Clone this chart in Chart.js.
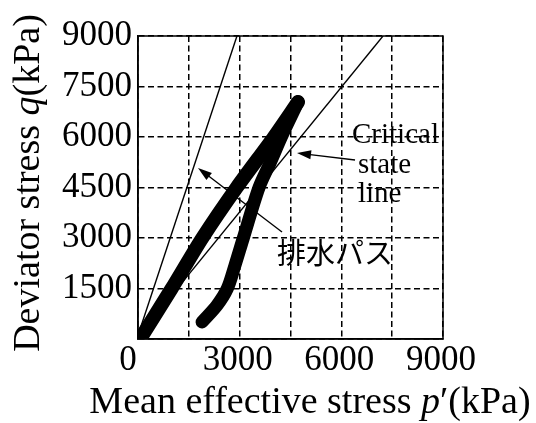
<!DOCTYPE html>
<html>
<head>
<meta charset="utf-8">
<script src="https://cdn.jsdelivr.net/npm/chart.js@4/dist/chart.umd.min.js"></script>
<style>
  html, body { margin: 0; padding: 0; background: #fff; }
  canvas { display: block; }
</style>
</head>
<body>
<canvas id="chart" width="536" height="423"></canvas>
<script>
// Drained stress path (loading to peak, then back down), kPa
const loadP   = [100, 994, 1898, 2912, 4010, 4722];
const loadQ   = [60, 1500, 3000, 4500, 6000, 7040];
const unloadP = [4722, 4230, 3916, 3571, 3108, 2850, 2636, 2330, 1890];
const unloadQ = [7040, 6000, 5270, 4500, 3000, 2150, 1500, 1000, 505];

// Reference lines: steep total-stress line and the critical state line
const steepP = [50, 2920];
const steepQ = [260, 9000];
const cslP   = [50, 7230];
const cslQ   = [130, 9000];

// Axis ticks
const pTickLabels = ['0', '', '3000', '', '6000', '', '9000'];
const qTickLabels = ['', '1500', '3000', '4500', '6000', '7500', '9000'];

// Axis titles (text, italic?)
const xTitleParts = [['Mean effective stress ', false], ['p', true], ['\u2032(kPa)', false]];
const yTitleParts = [['Deviator stress ', false], ['q', true], ['(kPa)', false]];

// Callout texts
const cslLabelLines = ['Critical', 'state', 'line'];
const pathLabel = '排水パス';

const SERIF = "'Liberation Serif', 'Times New Roman', serif";
const CJK = "'Noto Sans CJK JP', 'Noto Sans CJK SC', sans-serif";

const toPts = (xs, ys) => xs.map((x, i) => ({ x: x, y: ys[i] }));

function drawParts(ctx, parts, size) {
  let total = 0;
  const widths = parts.map(([t, it]) => {
    ctx.font = (it ? 'italic ' : '') + size + 'px ' + SERIF;
    const w = ctx.measureText(t).width;
    total += w;
    return w;
  });
  let x = -total / 2;
  parts.forEach(([t, it], i) => {
    ctx.font = (it ? 'italic ' : '') + size + 'px ' + SERIF;
    ctx.fillText(t, x, 0);
    x += widths[i];
  });
}

function arrow(ctx, x1, y1, x2, y2) {
  const ang = Math.atan2(y2 - y1, x2 - x1);
  const len = 14, half = 4.5;
  ctx.beginPath();
  ctx.moveTo(x1, y1);
  ctx.lineTo(x2 - Math.cos(ang) * len * 0.8, y2 - Math.sin(ang) * len * 0.8);
  ctx.lineWidth = 1.4;
  ctx.strokeStyle = '#000';
  ctx.stroke();
  ctx.beginPath();
  ctx.moveTo(x2, y2);
  ctx.lineTo(x2 - Math.cos(ang) * len - Math.sin(ang) * half, y2 - Math.sin(ang) * len + Math.cos(ang) * half);
  ctx.lineTo(x2 - Math.cos(ang) * len + Math.sin(ang) * half, y2 - Math.sin(ang) * len - Math.cos(ang) * half);
  ctx.closePath();
  ctx.fillStyle = '#000';
  ctx.fill();
}

const decor = {
  id: 'decor',
  beforeDraw(chart) {
    // nudge the corner "0" toward the origin corner
    const xs = chart.scales.x;
    if (xs && typeof xs.getLabelItems === 'function') {
      const items = xs.getLabelItems();
      if (items && items[0] && items[0].options && items[0].options.translation) {
        items[0].options.translation[0] -= 8;
      }
    }
  },
  beforeDatasetsDraw(chart) {
    const { ctx, chartArea: a } = chart;
    ctx.save();
    ctx.lineWidth = 1.5;
    ctx.strokeStyle = '#000';
    ctx.setLineDash([]);
    ctx.strokeRect(a.left, a.top, a.right - a.left, a.bottom - a.top);
    ctx.restore();
  },
  afterDraw(chart) {
    const { ctx } = chart;
    const xs = chart.scales.x, ys = chart.scales.y;
    const px = v => xs.getPixelForValue(v), py = v => ys.getPixelForValue(v);
    ctx.save();
    ctx.fillStyle = '#000';
    ctx.textBaseline = 'alphabetic';

    // x title
    ctx.save();
    ctx.translate(310, 413);
    drawParts(ctx, xTitleParts, 38);
    ctx.restore();

    // y title
    ctx.save();
    ctx.translate(39, 183);
    ctx.rotate(-Math.PI / 2);
    drawParts(ctx, yTitleParts, 38);
    ctx.restore();

    // critical state line callout
    ctx.font = '29px ' + SERIF;
    ctx.textAlign = 'left';
    const cslAnchors = [[6315, 5821], [6492, 4930], [6492, 4069]];
    cslLabelLines.forEach((t, i) => ctx.fillText(t, px(cslAnchors[i][0]), py(cslAnchors[i][1])));
    arrow(ctx, px(6404), py(5316), px(4692), py(5524));

    // drained path callout
    ctx.font = '29px ' + CJK;
    ctx.textBaseline = 'middle';
    ctx.fillText(pathLabel, px(4102), py(2569));
    arrow(ctx, px(4249), py(3178), px(1771), py(5079));
    ctx.restore();
  }
};

const gridCommon = {
  color: '#000',
  lineWidth: 1.5,
  drawTicks: false
};

new Chart(document.getElementById('chart'), {
  type: 'scatter',
  data: {
    datasets: [
      { data: toPts(steepP, steepQ), showLine: true, borderColor: '#000', borderWidth: 1.4, pointRadius: 0, tension: 0 },
      { data: toPts(cslP, cslQ), showLine: true, borderColor: '#000', borderWidth: 1.4, pointRadius: 0, tension: 0 },
      { data: toPts(loadP, loadQ), showLine: true, borderColor: '#000', borderWidth: 14, pointRadius: 0,
        tension: 0.25, borderCapStyle: 'round', borderJoinStyle: 'round' },
      { data: toPts(unloadP, unloadQ), showLine: true, borderColor: '#000', borderWidth: 13, pointRadius: 0,
        tension: 0.3, borderCapStyle: 'round', borderJoinStyle: 'round' }
    ]
  },
  options: {
    responsive: false,
    animation: false,
    devicePixelRatio: 1,
    layout: { padding: { left: 0, right: 93, top: 36, bottom: 0 } },
    plugins: { legend: { display: false }, tooltip: { enabled: false } },
    scales: {
      x: {
        type: 'linear', min: 0, max: 9000,
        afterFit: s => { s.height = 84; },
        grid: gridCommon,
        border: { display: true, color: '#000', width: 1.5, dash: [6, 3.5] },
        ticks: {
          stepSize: 1500, autoSkip: false, maxRotation: 0, padding: 4, labelOffset: -2,
          color: '#000', font: { family: SERIF, size: 35, lineHeight: 1 },
          callback: (v, i) => pTickLabels[i]
        }
      },
      y: {
        type: 'linear', min: 0, max: 9000,
        afterFit: s => { s.width = 138; },
        grid: gridCommon,
        border: { display: true, color: '#000', width: 1.5, dash: [6, 3.5] },
        ticks: {
          stepSize: 1500, autoSkip: false, padding: 6,
          color: '#000', font: { family: SERIF, size: 35, lineHeight: 1 },
          callback: (v, i) => qTickLabels[i]
        }
      }
    }
  },
  plugins: [decor]
});
</script>
</body>
</html>
